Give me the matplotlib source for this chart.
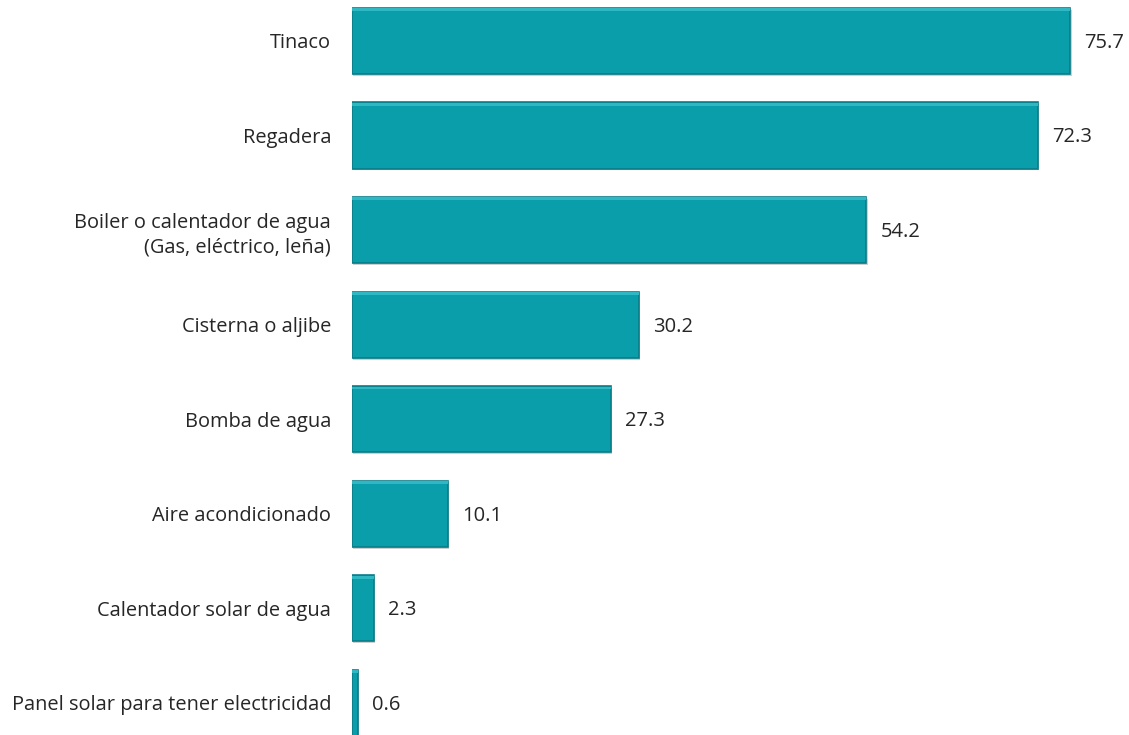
import numpy as np
import matplotlib.pyplot as plt

categories = ["Tinaco", "Regadera", "Boiler o calentador de agua\n(Gas, eléctrico, leña)",
              "Cisterna o aljibe", "Bomba de agua", "Aire acondicionado",
              "Calentador solar de agua", "Panel solar para tener electricidad"]
values = [75.7, 72.3, 54.2, 30.2, 27.3, 10.1, 2.3, 0.6]

plt.rcParams['font.family'] = ['Open Sans', 'DejaVu Sans']

fig = plt.figure(figsize=(11.29, 7.35), dpi=100)
ax = fig.add_axes([352 / 1129, 0, 777 / 1129, 1])

y = np.arange(len(values))
h = 0.7

# soft shadow under each bar
ax.barh(y + 0.02, values, height=h, left=0.15, color="#cfcfcf", zorder=1)
# main bar
ax.barh(y, values, height=h, color="#0a9eab", edgecolor="#0a7d87", linewidth=1.2, zorder=2)
# lighter bevel on top
ax.barh(y - h / 2 + 0.02, values, height=0.03, color="#2fb8c4", zorder=3)

for yi, v in zip(y, values):
    ax.text(v + 1.5, yi + 0.02, f"{v}", va="center", ha="left", fontsize=14.5, color="#262626")

ax.set_yticks(y)
ax.set_yticklabels(categories, fontsize=14.4, color="#262626", linespacing=1.3)
ax.tick_params(axis="y", length=0, pad=15)
for lab in ax.get_yticklabels():
    lab.set_horizontalalignment("right")
    lab.set_multialignment("right")

ax.set_xlim(0, 81.9)
ax.set_ylim(7.34, -0.433)
ax.set_xticks([])
for s in ax.spines.values():
    s.set_visible(False)

fig.savefig("out.png", dpi=100)
